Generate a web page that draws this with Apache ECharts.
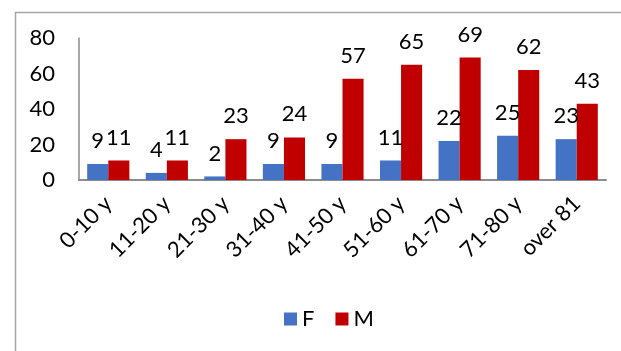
<!DOCTYPE html>
<html>
<head>
<meta charset="utf-8">
<script src="https://cdn.jsdelivr.net/npm/echarts@6/dist/echarts.min.js"></script>
<style>
  html, body { margin: 0; padding: 0; background: #fff; }
  #chart { width: 621px; height: 351px; }
</style>
</head>
<body>
<div id="chart"></div>
<script>
// Age groups and patient counts by sex
const categories = ['0-10 y', '11-20 y', '21-30 y', '31-40 y', '41-50 y', '51-60 y', '61-70 y', '71-80 y', 'over 81'];
const femaleValues = [9, 4, 2, 9, 9, 11, 22, 25, 23];
const maleValues = [11, 11, 23, 24, 57, 65, 69, 62, 43];
const seriesNames = ['F', 'M'];

const FONT = 'Lato, "Noto Sans", sans-serif';
const TEXT = '#000000';
const AXIS = '#8c8c8c';

const chart = echarts.init(document.getElementById('chart'), null, { renderer: 'canvas' });

const labelStyle = {
  show: true,
  position: 'top',
  distance: 12,
  color: TEXT,
  fontFamily: FONT,
  fontSize: 22
};

chart.setOption({
  animation: false,
  backgroundColor: '#ffffff',
  graphic: [{
    type: 'rect',
    left: 13,
    top: 10,
    shape: { width: 700, height: 400 },
    style: { fill: 'none', stroke: '#a6a6a6', lineWidth: 1.5 },
    silent: true
  }],
  grid: { left: 79, right: 15, top: 38, bottom: 171, containLabel: false },
  legend: {
    data: seriesNames,
    top: 303,
    left: 279,
    itemWidth: 13,
    itemHeight: 13,
    itemGap: 21,
    icon: 'rect',
    textStyle: { color: TEXT, fontFamily: FONT, fontSize: 22 }
  },
  xAxis: {
    type: 'category',
    data: categories,
    axisLine: { show: true, lineStyle: { color: AXIS, width: 2 } },
    axisTick: { show: false },
    axisLabel: {
      rotate: 45,
      interval: 0,
      margin: 20,
      padding: [22, 0, 0, 0],
      color: TEXT,
      fontFamily: FONT,
      fontSize: 22
    }
  },
  yAxis: {
    type: 'value',
    min: 0,
    max: 80,
    interval: 20,
    splitLine: { show: false },
    axisLine: { show: true, lineStyle: { color: AXIS, width: 1.5 } },
    axisTick: { show: false },
    axisLabel: {
      margin: 24,
      color: TEXT,
      fontFamily: FONT,
      fontSize: 22
    }
  },
  series: [
    {
      name: seriesNames[0],
      type: 'bar',
      data: femaleValues,
      barGap: '0%',
      barCategoryGap: '28%',
      itemStyle: { color: '#4472C4' },
      label: labelStyle
    },
    {
      name: seriesNames[1],
      type: 'bar',
      data: maleValues,
      barGap: '0%',
      barCategoryGap: '28%',
      itemStyle: { color: '#C00000' },
      label: labelStyle
    }
  ]
});
</script>
</body>
</html>
